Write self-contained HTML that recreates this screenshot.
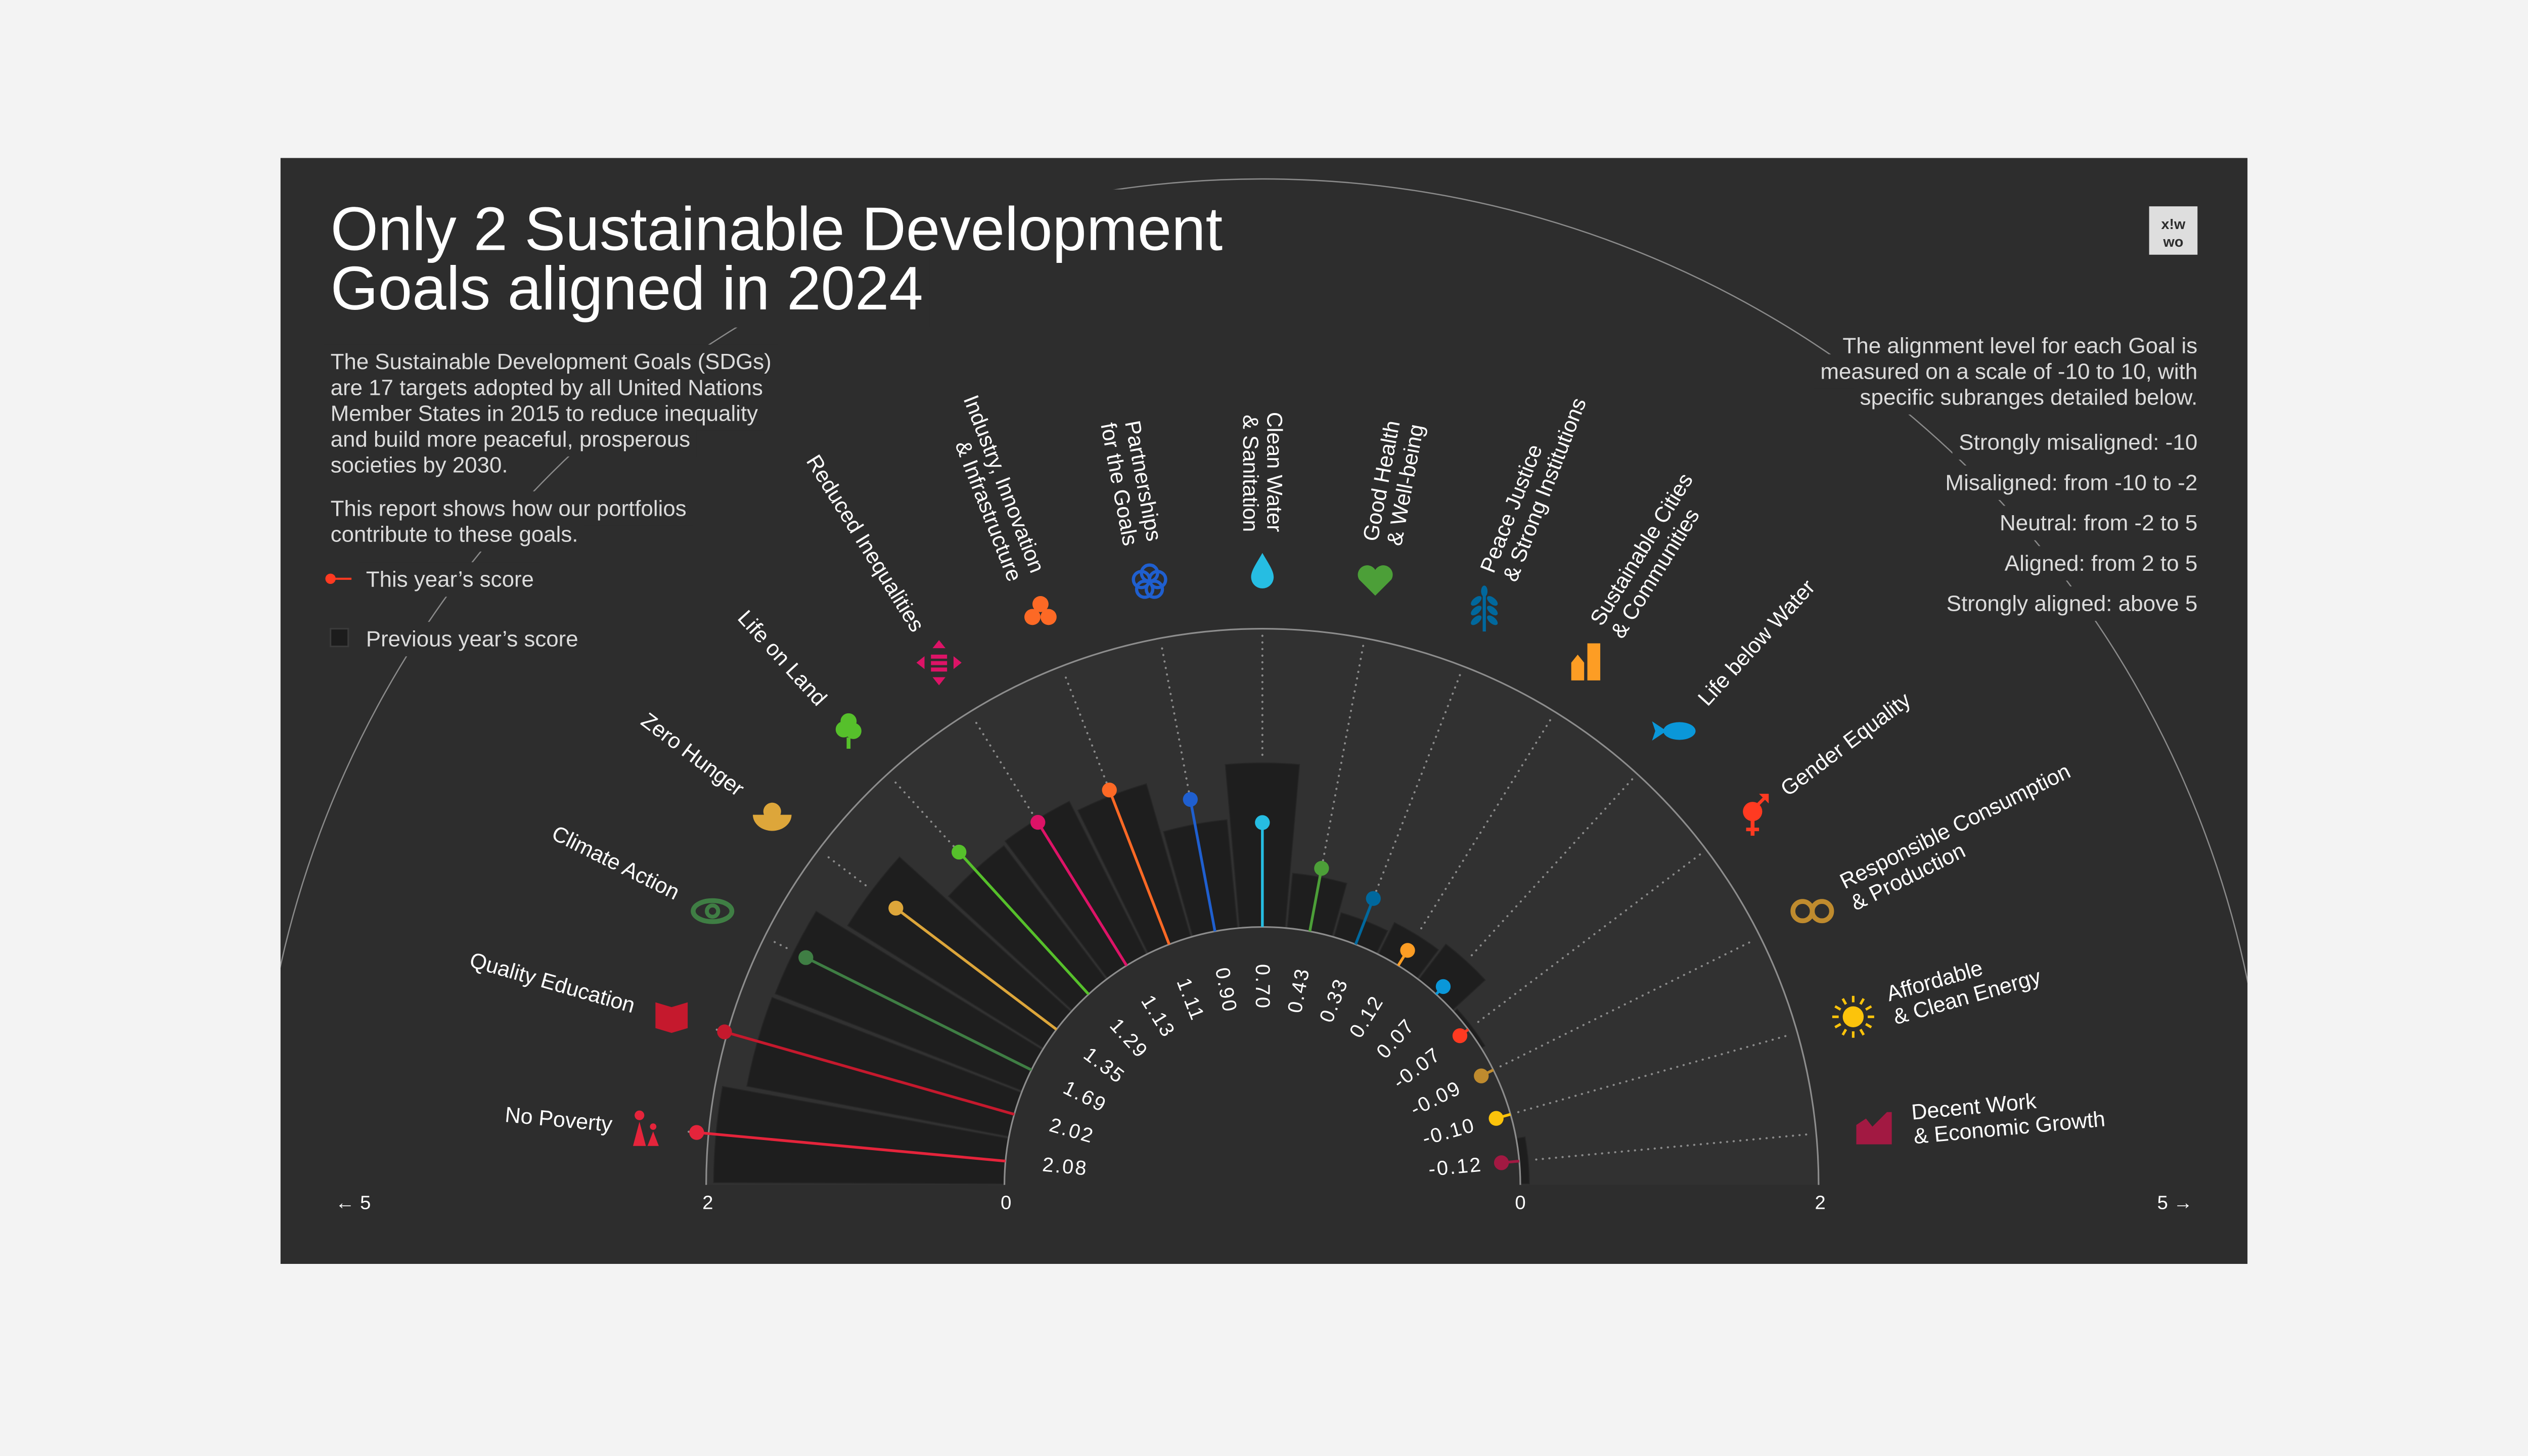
<!DOCTYPE html>
<html><head><meta charset="utf-8">
<style>
html,body{margin:0;padding:0;background:#f3f3f3;overflow:hidden;}
#s{display:block;position:absolute;left:0;top:0;width:100vw;height:56.25vw;overflow:hidden;}
text{font-family:"Liberation Sans",sans-serif;}
</style></head>
<body>
<svg id="s" xmlns="http://www.w3.org/2000/svg" viewBox="0 0 1568 882" preserveAspectRatio="none">
<defs><clipPath id="pc"><rect x="174" y="98" width="1220" height="686"/></clipPath></defs>
<rect width="1568" height="882" fill="#f3f3f3"/>
<rect x="174" y="98" width="1220" height="686" fill="#2d2d2d"/>
<g clip-path="url(#pc)"><circle cx="783" cy="735" r="624" fill="none" stroke="#8a8a8a" stroke-width="0.8"/></g>
<g id="chart"></g>
<g id="txt" fill="#dcdcdc">
<text class="m" x="205" y="155" font-size="38" fill="#fff">Only 2 Sustainable Development</text>
<text class="m" x="205" y="192" font-size="38" fill="#fff">Goals aligned in 2024</text>
<g font-size="13.75">
<text class="m" x="205" y="229">The Sustainable Development Goals (SDGs)</text>
<text class="m" x="205" y="245">are 17 targets adopted by all United Nations</text>
<text class="m" x="205" y="261">Member States in 2015 to reduce inequality</text>
<text class="m" x="205" y="277">and build more peaceful, prosperous</text>
<text class="m" x="205" y="293">societies by 2030.</text>
<text class="m" x="205" y="320">This report shows how our portfolios</text>
<text class="m" x="205" y="336">contribute to these goals.</text>
<text class="m" x="227" y="364">This year’s score</text>
<text class="m" x="227" y="401">Previous year’s score</text>
</g>
<g text-anchor="end" font-size="13.8">
<text class="m" x="1363" y="219">The alignment level for each Goal is</text>
<text class="m" x="1363" y="235">measured on a scale of -10 to 10, with</text>
<text class="m" x="1363" y="251">specific subranges detailed below.</text>
<text class="m" x="1363" y="279">Strongly misaligned: -10</text>
<text class="m" x="1363" y="304">Misaligned: from -10 to -2</text>
<text class="m" x="1363" y="329">Neutral: from -2 to 5</text>
<text class="m" x="1363" y="354">Aligned: from 2 to 5</text>
<text class="m" x="1363" y="379">Strongly aligned: above 5</text>
</g>
<g font-size="12" fill="#fff" text-anchor="middle">
<text x="439" y="750">2</text><text x="624" y="750">0</text>
<text x="943" y="750">0</text><text x="1129" y="750">2</text>
<text x="219" y="750">← 5</text><text x="1349" y="750">5 →</text>
</g>
</g>
<line x1="205" y1="359" x2="218" y2="359" stroke="#ff3a21" stroke-width="1.3"/>
<circle cx="205" cy="359" r="3.2" fill="#ff3a21"/>
<rect x="205" y="390" width="11" height="11" fill="#1c1c1c" stroke="#3a3a3a" stroke-width="1"/>
<rect x="1333" y="128" width="30" height="30" fill="#dedede"/>
<text x="1348" y="142" font-size="9" font-weight="bold" fill="#2d2d2d" text-anchor="middle">x!w</text>
<text x="1348" y="153" font-size="9" font-weight="bold" fill="#2d2d2d" text-anchor="middle">wo</text>
</svg>
<script>
(function(){
var NS="http://www.w3.org/2000/svg";
var cx=783,cy=735,R0=160,K=92.5,RO=345;
function el(n,a,p){var e=document.createElementNS(NS,n);for(var k in a)e.setAttribute(k,a[k]);(p||g).appendChild(e);return e;}
function pt(r,th){var a=th*Math.PI/180;return [cx+r*Math.cos(a),cy-r*Math.sin(a)];}
var ts=document.querySelectorAll('text.m');
var txt=document.getElementById('txt');
ts.forEach(function(t){var b=t.getBBox();var r=document.createElementNS(NS,'rect');
r.setAttribute('x',b.x-4);r.setAttribute('y',b.y-3);r.setAttribute('width',b.width+8);r.setAttribute('height',b.height+6);r.setAttribute('fill','#2d2d2d');
txt.parentNode.insertBefore(r,txt);});
var g=document.getElementById('chart');
var D=[
[["No Poverty"],"#e5243b",2.08,1.95,"pov"],
[["Quality Education"],"#c5192d",2.02,1.79,"edu"],
[["Climate Action"],"#3f7e44",1.69,1.78,"eye"],
[["Zero Hunger"],"#dda63a",1.35,1.55,"bowl"],
[["Life on Land"],"#56c02b",1.29,1.13,"tree"],
[["Reduced Inequalities"],"#dd1367",1.13,1.15,"ineq"],
[["Industry, Innovation","& Infrastructure"],"#fd6925",1.11,1.07,"ind"],
[["Partnerships","for the Goals"],"#1f5fcf",0.90,0.73,"part"],
[["Clean Water","& Sanitation"],"#26bde2",0.70,1.10,"drop"],
[["Good Health","& Well-being"],"#4c9f38",0.43,0.37,"heart"],
[["Peace Justice","& Strong Institutions"],"#00689d",0.33,0.17,"wheat"],
[["Sustainable Cities","& Communities"],"#fd9d24",0.12,0.24,"city"],
[["Life below Water"],"#0a97d9",0.07,0.30,"fish"],
[["Gender Equality"],"#ff3a21",-0.07,0.03,"gen"],
[["Responsible Consumption","& Production"],"#bf8b2e",-0.09,-0.06,"inf"],
[["Affordable","& Clean Energy"],"#fcc30b",-0.10,-0.03,"sun"],
[["Decent Work","& Economic Growth"],"#a21942",-0.12,0.06,"work"]];
el('path',{d:'M'+(cx-RO)+','+cy+' A'+RO+','+RO+' 0 0 1 '+(cx+RO)+','+cy+' L'+(cx+R0)+','+cy+' A'+R0+','+R0+' 0 0 0 '+(cx-R0)+','+cy+' Z',fill:'#313131'});
var step=180/17;
D.forEach(function(d,i){
 var th=180-(i+0.5)*step; var r1=R0+d[3]*K;
 var a0=th+step/2-0.25,a1=th-step/2+0.25;
 var p0=pt(R0,a0),p1=pt(r1,a0),p2=pt(r1,a1),p3=pt(R0,a1);
 el('path',{d:'M'+p0+' L'+p1+' A'+r1+','+r1+' 0 0 1 '+p2+' L'+p3+' A'+R0+','+R0+' 0 0 0 '+p0+'Z',fill:'#1e1e1e',stroke:'#262626','stroke-width':0.6});
});
el('path',{d:'M'+(cx-RO)+','+cy+' A'+RO+','+RO+' 0 0 1 '+(cx+RO)+','+cy,fill:'none',stroke:'#8d8d8d','stroke-width':1});
el('path',{d:'M'+(cx-R0)+','+cy+' A'+R0+','+R0+' 0 0 1 '+(cx+R0)+','+cy,fill:'#2d2d2d',stroke:'#8d8d8d','stroke-width':1});
D.forEach(function(d,i){
 var th=180-(i+0.5)*step; var rv=R0+d[2]*K; var r1=R0+d[3]*K;
 var rs=Math.max(rv,r1,R0)+5;
 var q0=pt(rs,th),q1=pt(RO-4,th);
 el('line',{x1:q0[0],y1:q0[1],x2:q1[0],y2:q1[1],stroke:'#8a8a8a','stroke-width':1.3,'stroke-dasharray':'0.1 4','stroke-linecap':'round'});
 var s0=pt(R0,th),s1=pt(rv,th);
 el('line',{x1:s0[0],y1:s0[1],x2:s1[0],y2:s1[1],stroke:d[1],'stroke-width':1.7});
 el('circle',{cx:s1[0],cy:s1[1],r:4.6,fill:d[1]});
 var v=d[2].toFixed(2), lp=pt(137,th), t;
 if(i<=8){t=el('text',{x:lp[0],y:lp[1],'font-size':12.5,fill:'#fff','font-family':'Liberation Mono, monospace','letter-spacing':'1','dominant-baseline':'central','text-anchor':'start',transform:'rotate('+(180-th)+' '+lp[0]+' '+lp[1]+')'});}
 else{t=el('text',{x:lp[0],y:lp[1],'font-size':12.5,fill:'#fff','font-family':'Liberation Mono, monospace','letter-spacing':'1','dominant-baseline':'central','text-anchor':'end',transform:'rotate('+(-th)+' '+lp[0]+' '+lp[1]+')'});}
 t.textContent=v;
 var cp=pt(405,th), rot=i<=8?(180-th):(-th), anc=i<=8?'end':'start';
 var gg=el('g',{transform:'translate('+cp[0]+','+cp[1]+') rotate('+rot+')'});
 var n=d[0].length;
 d[0].forEach(function(s,j){var tt=el('text',{x:0,y:(j-(n-1)/2)*15,'font-size':13.5,fill:'#fff','text-anchor':anc,'dominant-baseline':'central'},gg);tt.textContent=s;});
 var ip=pt(381,th); var ig=el('g',{transform:'translate('+ip[0]+','+ip[1]+')',fill:d[1]});
 icon(d[4],ig,d[1]);
});
function icon(k,p,c){
 switch(k){
 case 'pov':el('polygon',{points:'-11,11 -3,11 -7,-4'},p);el('circle',{cx:-7,cy:-8,r:3},p);el('polygon',{points:'-2,11 5,11 1.5,2'},p);el('circle',{cx:1.5,cy:-1,r:2},p);break;
 case 'edu':el('polygon',{points:'-10,-9 0,-6 10,-9 10,7 0,10 -10,7'},p);break;
 case 'eye':el('ellipse',{cx:0,cy:0,rx:12,ry:6.5,fill:'none',stroke:c,'stroke-width':3},p);el('circle',{cx:0,cy:0,r:3.5,fill:'none',stroke:c,'stroke-width':2.5},p);break;
 case 'bowl':el('path',{d:'M-12,0 A12,10 0 0 0 12,0 Z'},p);el('circle',{cx:0,cy:-2,r:5.5},p);break;
 case 'tree':el('circle',{cx:0,cy:-6,r:5},p);el('circle',{cx:-3,cy:-1,r:5},p);el('circle',{cx:3,cy:0,r:5},p);el('rect',{x:-1.2,y:4,width:2.4,height:7},p);break;
 case 'ineq':el('polygon',{points:'0,-14 -4,-9 4,-9'},p);el('polygon',{points:'0,14 -4,9 4,9'},p);el('polygon',{points:'-14,0 -9,-4 -9,4'},p);el('polygon',{points:'14,0 9,-4 9,4'},p);el('rect',{x:-5,y:-5,width:10,height:2.5},p);el('rect',{x:-5,y:-1,width:10,height:2.5},p);el('rect',{x:-5,y:3,width:10,height:2.5},p);break;
 case 'ind':el('circle',{cx:0,cy:-5,r:5},p);el('circle',{cx:-5,cy:3,r:5},p);el('circle',{cx:5,cy:3,r:5},p);break;
 case 'part':[[0,-5],[-5,-1],[5,-1],[-3,5],[3,5]].forEach(function(q){el('circle',{cx:q[0],cy:q[1],r:5,fill:'none',stroke:c,'stroke-width':2},p);});break;
 case 'drop':el('path',{d:'M0,-11 C4,-4 7,0 7,4 A7,7 0 0 1 -7,4 C-7,0 -4,-4 0,-11Z'},p);break;
 case 'heart':el('path',{d:'M0,9 L-10,-1 A5,5 0 0 1 0,-7 A5,5 0 0 1 10,-1 Z'},p);break;
 case 'wheat':el('rect',{x:-1,y:-12,width:2,height:24},p);[-7,-1,5].forEach(function(y){el('ellipse',{cx:-5,cy:y,rx:4,ry:2,transform:'rotate(-40 -5 '+y+')'},p);el('ellipse',{cx:5,cy:y,rx:4,ry:2,transform:'rotate(40 5 '+y+')'},p);});el('ellipse',{cx:0,cy:-13,rx:2,ry:3.5},p);break;
 case 'city':el('rect',{x:1,y:-12,width:8,height:23},p);el('polygon',{points:'-9,11 -9,0 -5,-5 -1,0 -1,11'},p);break;
 case 'fish':el('ellipse',{cx:2,cy:0,rx:10,ry:5.5},p);el('polygon',{points:'-6,0 -15,-6 -13,0 -15,6'},p);break;
 case 'gen':el('circle',{cx:0,cy:-2,r:6},p);el('rect',{x:-1.2,y:3,width:2.4,height:10},p);el('rect',{x:-4,y:8,width:8,height:2.2},p);el('line',{x1:3,y1:-6,x2:9,y2:-12,stroke:c,'stroke-width':2},p);el('polygon',{points:'10,-13 4,-13 10,-7'},p);break;
 case 'inf':el('circle',{cx:-6,cy:0,r:6,fill:'none',stroke:c,'stroke-width':3},p);el('circle',{cx:6,cy:0,r:6,fill:'none',stroke:c,'stroke-width':3},p);break;
 case 'sun':el('circle',{cx:0,cy:0,r:6.5},p);for(var a=0;a<360;a+=30){var r=a*Math.PI/180;el('line',{x1:9*Math.cos(r),y1:9*Math.sin(r),x2:13*Math.cos(r),y2:13*Math.sin(r),stroke:c,'stroke-width':1.6},p);}break;
 case 'work':el('polygon',{points:'-11,10 -11,-2 -5,-6 -1,-1 5,-7 8,-10 11,-10 11,10'},p);break;
 }
}
})();
</script>
</body></html>
